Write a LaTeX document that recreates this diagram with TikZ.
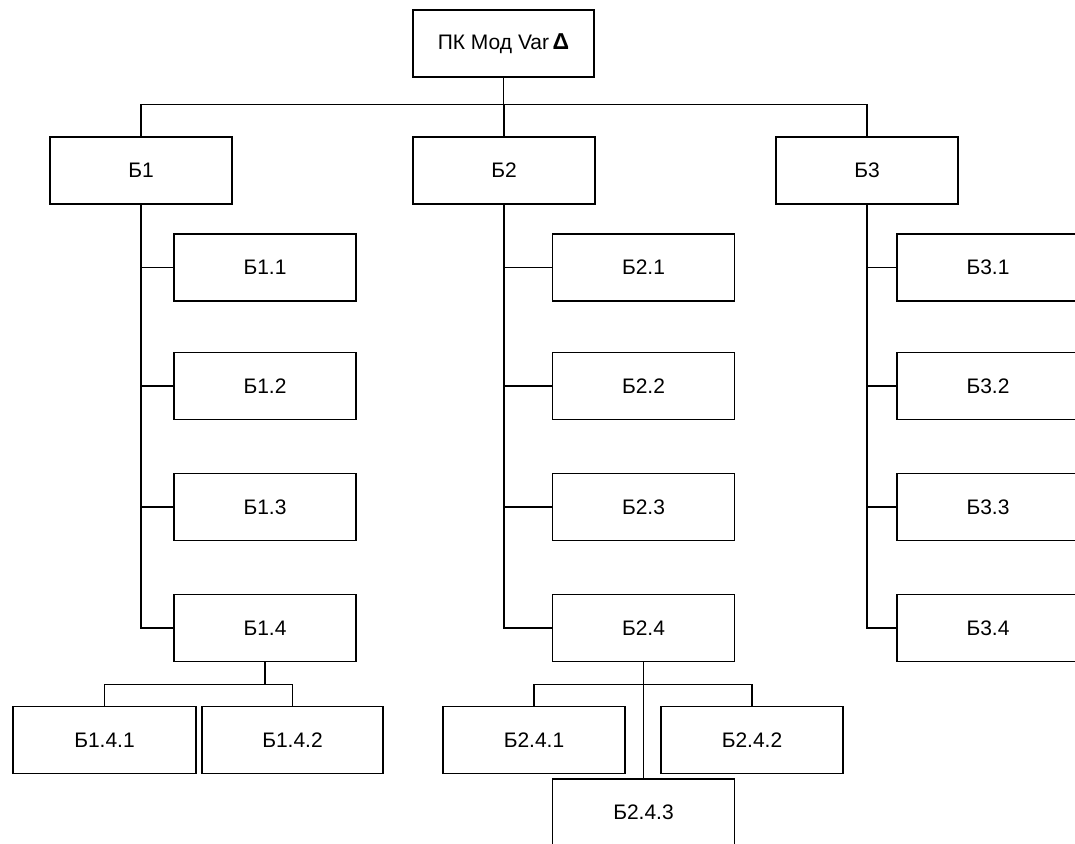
\documentclass[tikz,border=0pt]{standalone}
\usepackage{fontspec}
\setmainfont{Liberation Sans}
\begin{document}
\begin{tikzpicture}[x=1pt,y=-1pt,
  box/.style={draw, line width=1.2pt, minimum width=182pt, minimum height=67pt, inner sep=0pt, font=\fontsize{21}{24}\selectfont, fill=white},
  conn/.style={line width=1.2pt}]
\useasboundingbox (0,0) rectangle (1075,843);
\fill[white] (0,0) rectangle (1075,843);
\node[box, minimum width=181pt] (top) at (503.5,43.5) {ПК Мод Var\,{\fontsize{23}{24}\selectfont\textbf{Δ}}};
\node[box] (b1) at (141,170.5) {Б1};
\node[box] (b2) at (504,170.5) {Б2};
\node[box] (b3) at (867,170.5) {Б3};
\foreach \i/\y in {1/267.5,2/386,3/507,4/628}{
  \node[box] (b1\i) at (265,\y) {Б1.\i};
  \node[box] (b2\i) at (643.5,\y) {Б2.\i};
  \node[box] (b3\i) at (988,\y) {Б3.\i};
}
\node[box, minimum width=183pt] (b141) at (104.5,740) {Б1.4.1};
\node[box, minimum width=181pt] (b142) at (292.5,740) {Б1.4.2};
\node[box] (b241) at (534,740) {Б2.4.1};
\node[box] (b242) at (752,740) {Б2.4.2};
\node[box] (b243) at (643.5,812.5) {Б2.4.3};
% connectors
\draw[conn] (top.south) -- ++(0,27) -| (b1.north);
\draw[conn] (top.south) -- ++(0,27) -| (b3.north);
\draw[conn] (top.south) -- ++(0,27) -| (b2.north);
\foreach \i in {1,2,3,4}{
  \draw[conn] (b1.south) |- (b1\i.west);
  \draw[conn] (b2.south) |- (b2\i.west);
  \draw[conn] (b3.south) |- (b3\i.west);
}
\draw[conn] (b14.south) -- ++(0,22) -| (b141.north);
\draw[conn] (b14.south) -- ++(0,22) -| (b142.north);
\draw[conn] (b24.south) -- ++(0,22) -| (b241.north);
\draw[conn] (b24.south) -- ++(0,22) -| (b242.north);
\draw[conn] (b24.south) -- (b243.north);
\end{tikzpicture}
\end{document}
